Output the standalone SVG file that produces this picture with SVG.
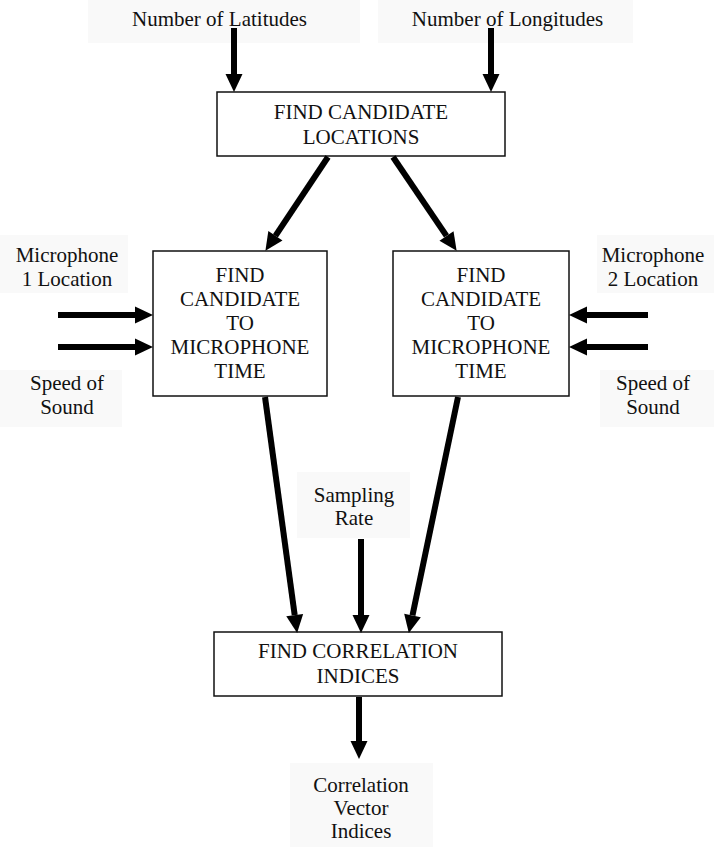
<svg xmlns="http://www.w3.org/2000/svg" width="714" height="847" viewBox="0 0 714 847">
  <style>
    .box { fill: #ffffff; stroke: #111111; stroke-width: 1.5; }
    .lbl { font-family: "Liberation Serif", "Times New Roman", serif; font-size: 21px; fill: #111111; text-anchor: middle; }
    .pad { fill: #f9f9f9; }
    .wire { stroke: #000000; stroke-width: 6; fill: none; marker-end: url(#head); }
  </style>
  <defs>
    <marker id="head" markerUnits="userSpaceOnUse" viewBox="0 -9 18 18" markerWidth="18" markerHeight="18" refX="0" refY="0" orient="auto" overflow="visible">
      <path d="M0,-8.5 L18,0 L0,8.5 Z" fill="#000000"/>
    </marker>
  </defs>

  <rect width="714" height="847" fill="#ffffff"/>

  <!-- input / output labels -->
  <g id="in-latitudes">
    <rect class="pad" x="88" y="0" width="272" height="43"/>
    <text class="lbl" x="219.5" y="26">Number of Latitudes</text>
  </g>
  <g id="in-longitudes">
    <rect class="pad" x="378" y="0" width="255" height="43"/>
    <text class="lbl" x="507.5" y="26">Number of Longitudes</text>
  </g>
  <g id="in-mic1-location">
    <rect class="pad" x="0" y="235" width="128" height="58"/>
    <text class="lbl" x="67" y="262">Microphone</text>
    <text class="lbl" x="67" y="286">1 Location</text>
  </g>
  <g id="in-sound-left">
    <rect class="pad" x="0" y="370" width="122" height="57"/>
    <text class="lbl" x="67" y="390">Speed of</text>
    <text class="lbl" x="67" y="414">Sound</text>
  </g>
  <g id="in-mic2-location">
    <rect class="pad" x="597" y="235" width="117" height="58"/>
    <text class="lbl" x="653" y="262">Microphone</text>
    <text class="lbl" x="653" y="286">2 Location</text>
  </g>
  <g id="in-sound-right">
    <rect class="pad" x="600" y="370" width="114" height="57"/>
    <text class="lbl" x="653" y="390">Speed of</text>
    <text class="lbl" x="653" y="414">Sound</text>
  </g>
  <g id="in-sampling-rate">
    <rect class="pad" x="297" y="472" width="113" height="66"/>
    <text class="lbl" x="354" y="502">Sampling</text>
    <text class="lbl" x="354" y="525">Rate</text>
  </g>
  <g id="out-indices">
    <rect class="pad" x="290" y="763" width="143" height="84"/>
    <text class="lbl" x="361" y="792">Correlation</text>
    <text class="lbl" x="361" y="815">Vector</text>
    <text class="lbl" x="361" y="838">Indices</text>
  </g>

  <!-- process blocks -->
  <g id="find-locations">
    <rect class="box" x="217" y="92" width="288" height="64"/>
    <text class="lbl" x="361" y="119">FIND CANDIDATE</text>
    <text class="lbl" x="361" y="144">LOCATIONS</text>
  </g>
  <g id="mic1-time">
    <rect class="box" x="153" y="251" width="174" height="145"/>
    <text class="lbl" x="240" y="282">FIND</text>
    <text class="lbl" x="240" y="306">CANDIDATE</text>
    <text class="lbl" x="240" y="330">TO</text>
    <text class="lbl" x="240" y="354">MICROPHONE</text>
    <text class="lbl" x="240" y="378">TIME</text>
  </g>
  <g id="mic2-time">
    <rect class="box" x="393" y="251" width="176" height="145"/>
    <text class="lbl" x="481" y="282">FIND</text>
    <text class="lbl" x="481" y="306">CANDIDATE</text>
    <text class="lbl" x="481" y="330">TO</text>
    <text class="lbl" x="481" y="354">MICROPHONE</text>
    <text class="lbl" x="481" y="378">TIME</text>
  </g>
  <g id="find-correlation">
    <rect class="box" x="214" y="632" width="288" height="64"/>
    <text class="lbl" x="358" y="658">FIND CORRELATION</text>
    <text class="lbl" x="358" y="683">INDICES</text>
  </g>

  <!-- connectors: each line stops at the base of its arrowhead -->
  <g id="connectors">
    <line class="wire" x1="234" y1="28" x2="234" y2="74"/>
    <line class="wire" x1="491" y1="28" x2="491" y2="74"/>
    <line class="wire" x1="328" y1="157" x2="275.4" y2="235.8"/>
    <line class="wire" x1="393" y1="157" x2="446.5" y2="235.9"/>
    <line class="wire" x1="58" y1="315" x2="135" y2="315"/>
    <line class="wire" x1="58" y1="347" x2="135" y2="347"/>
    <line class="wire" x1="648" y1="315" x2="587" y2="315"/>
    <line class="wire" x1="648" y1="347" x2="587" y2="347"/>
    <line class="wire" x1="265" y1="397" x2="294.7" y2="615.2"/>
    <line class="wire" x1="458" y1="397" x2="412.5" y2="615.4"/>
    <line class="wire" x1="361" y1="539" x2="361" y2="615"/>
    <line class="wire" x1="359" y1="697" x2="359" y2="741"/>
  </g>
</svg>
